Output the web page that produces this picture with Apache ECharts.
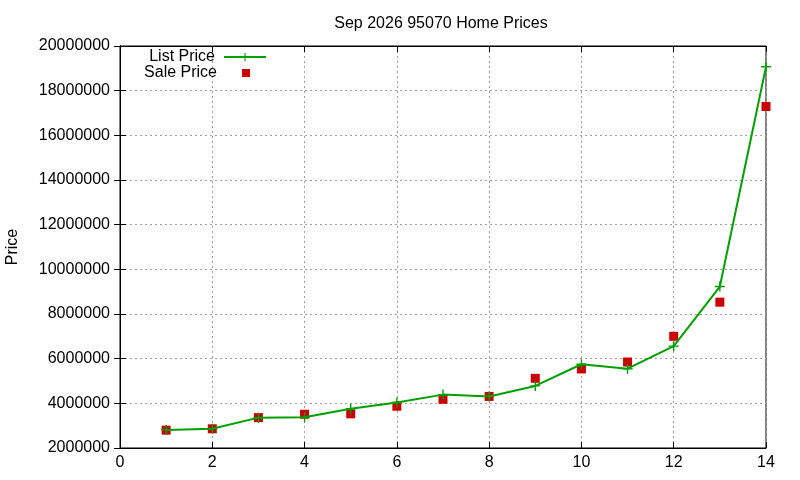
<!DOCTYPE html>
<html>
<head>
<meta charset="utf-8">
<script src="https://cdn.jsdelivr.net/npm/echarts@6/dist/echarts.min.js"></script>
<style>
  html, body { margin: 0; padding: 0; background: #fff; }
  #chart { width: 800px; height: 480px; }
</style>
</head>
<body>
<div id="chart"></div>
<script>
// months / index on x
var xs = [1, 2, 3, 4, 5, 6, 7, 8, 9, 10, 11, 12, 13, 14];
var listPrice = [2810000, 2860000, 3360000, 3380000, 3760000, 4040000, 4390000, 4310000,
                 4780000, 5750000, 5550000, 6560000, 9230000, 19070000];
var salePrice = [2800000, 2860000, 3360000, 3510000, 3530000, 3870000, 4180000, 4310000,
                 5120000, 5540000, 5850000, 7000000, 8530000, 17290000];

var font = 'Liberation Sans, Arial, sans-serif';
var plus = 'path://M-1,-0.14L-0.14,-0.14L-0.14,-1L0.14,-1L0.14,-0.14L1,-0.14L1,0.14L0.14,0.14L0.14,1L-0.14,1L-0.14,0.14L-1,0.14Z';

function pairs(vals) {
  return xs.map(function (x, i) { return [x, vals[i]]; });
}

var chart = echarts.init(document.getElementById('chart'));
var gridLine = { show: true, lineStyle: { color: '#a0a0a0', type: [2, 3], width: 1 } };

chart.setOption({
  animation: false,
  backgroundColor: '#fff',
  title: {
    text: 'Sep 2026 95070 Home Prices',
    left: 436, top: 11, textAlign: 'center',
    textStyle: { fontFamily: font, fontSize: 16, fontWeight: 'normal', color: '#000' }
  },
  legend: [{
    data: ['List Price'], orient: 'vertical', align: 'right', padding: 0,
    right: 533, top: 49, itemWidth: 42, itemHeight: 10,
    textStyle: { fontFamily: font, fontSize: 16, color: '#000', padding: [0, 4, 0, 0] }
  }, {
    data: [{ name: 'Sale Price', icon: 'rect' }], orient: 'vertical', align: 'right', padding: 0,
    right: 550, top: 65, itemWidth: 8, itemHeight: 8,
    textStyle: { fontFamily: font, fontSize: 16, color: '#000', padding: [0, 20, 0, 0] }
  }],
  grid: { left: 120, right: 34, top: 46, bottom: 32, show: true, borderColor: '#000', borderWidth: 1,
          outerBoundsMode: 'none', containLabel: false },
  xAxis: [{
    type: 'value', min: 0, max: 14, interval: 2,
    axisLine: { lineStyle: { color: '#000' } },
    axisTick: { inside: true, length: 6, lineStyle: { color: '#000' } },
    axisLabel: { fontFamily: font, fontSize: 16, color: '#000', margin: 7 },
    splitLine: gridLine
  }, {
    type: 'value', position: 'top', min: 0, max: 14, interval: 2,
    axisLine: { lineStyle: { color: '#000' } },
    axisTick: { inside: true, length: 6, lineStyle: { color: '#000' } },
    axisLabel: { show: false }, splitLine: { show: false }
  }],
  yAxis: [{
    type: 'value', min: 2000000, max: 20000000, interval: 2000000,
    name: 'Price', nameLocation: 'middle', nameGap: 99, nameRotate: 90,
    nameTextStyle: { fontFamily: font, fontSize: 16, color: '#000' },
    axisLine: { show: true, lineStyle: { color: '#000' } },
    axisTick: { show: true, inside: true, length: 6, lineStyle: { color: '#000' } },
    axisLabel: { fontFamily: font, fontSize: 16, color: '#000', margin: 10,
                 formatter: function (v) { return String(v); } },
    splitLine: gridLine
  }, {
    type: 'value', position: 'right', min: 2000000, max: 20000000, interval: 2000000,
    axisLine: { show: true, lineStyle: { color: '#000' } },
    axisTick: { show: true, inside: true, length: 6, lineStyle: { color: '#000' } },
    axisLabel: { show: false }, splitLine: { show: false }
  }],
  series: [{
    name: 'List Price', type: 'line', data: pairs(listPrice),
    symbol: plus, symbolSize: 10, showAllSymbol: true,
    lineStyle: { color: '#00a000', width: 2 },
    itemStyle: { color: '#00a000' }
  }, {
    name: 'Sale Price', type: 'scatter', data: pairs(salePrice),
    symbol: 'rect', symbolSize: 9,
    itemStyle: { color: '#cc0000', opacity: 1 }
  }]
});
</script>
</body>
</html>
